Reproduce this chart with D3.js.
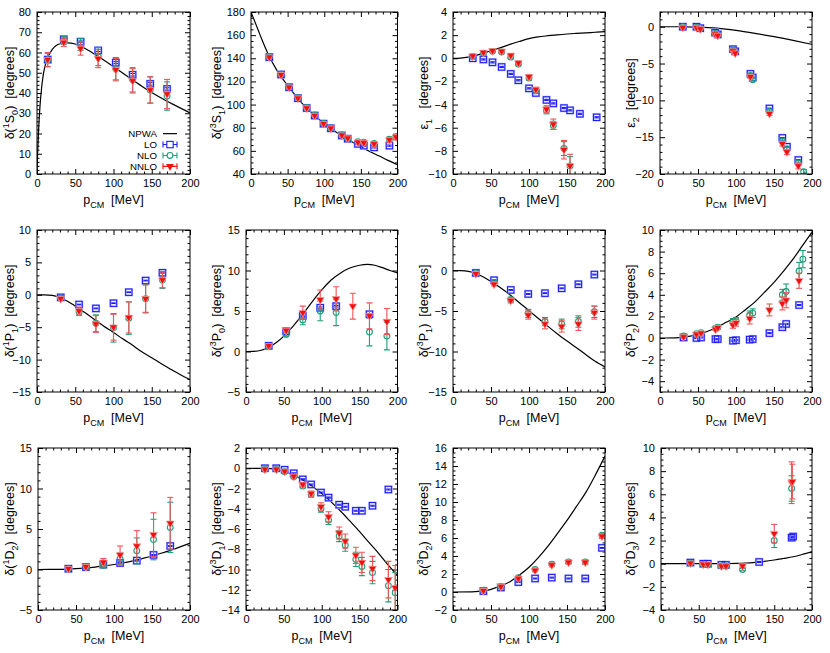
<!DOCTYPE html>
<html>
<head>
<meta charset="utf-8">
<script src="https://cdn.jsdelivr.net/npm/d3@7"></script>
<style>
  body { margin: 0; background: #fff; }
  svg { display: block; }
  text { font-family: "Liberation Sans", Arial, Helvetica, sans-serif; fill: #000; }
</style>
</head>
<body>
<div id="chart"></div>
<script>
// ---- data: [p_CM (MeV), phase (deg), error] ----
const s1s0Npwa = [[0,0],[0.5,7],[1,12],[2,21],[4,34],[6,42.5],[8,48.5],[10,52.5],[14,57.5],[20,61.5],[30,64.3],[40,64.8],[50,64.2],[60,62.6],[80,58],[100,53],[120,47.8],[140,42.6],[160,38],[180,34],[200,30.2]];
const s1s0Lo = [[14,56.5,0.4],[35,66.5,0.4],[57,65.3,0.4],[80,61,0.5],[103,55,0.5],[125,49,0.6],[148,44.5,0.6],[170,42,0.6]];
const s1s0Nlo = [[14,56.3,3.3],[35,66,2],[57,64,3],[80,58,4.5],[103,52,5.5],[125,46.5,6],[148,41.5,6.5],[170,38.5,7]];
const s1s0Nnlo = [[14,56.5,3.5],[35,65,2],[57,62,3.3],[80,57,4.5],[103,51.5,5.5],[125,46,6],[148,41.5,6.5],[170,39.5,7.2]];

const s3s1Npwa = [[0,180],[5,172],[10,164],[15,156],[20,148.5],[25,141.5],[35,130],[50,116.5],[63,106],[75,97.5],[87,90.5],[100,83.5],[112,78],[125,72.5],[137,68],[150,63.5],[162,59.5],[175,55.5],[187,51.8],[200,48]];
const s3s1Lo = [[25,141,0.5],[41,126,0.5],[52,115,0.5],[64,105.5,0.5],[76,97,0.5],[87,90.5,0.5],[99,83.5,0.5],[109,79.5,0.5],[124,73.3,0.5],[132,70.5,0.5],[146,66,0.5],[154,64.5,0.5],[168,63,0.5],[189,64.5,0.5]];
const s3s1Nlo = [[25,141.5,1],[41,126.3,1],[52,115.5,1],[64,106,1],[76,97.5,1],[87,91,1],[99,84,1],[109,79.8,1],[124,73.8,1],[132,71,1],[146,68,1.2],[154,67.5,1.3],[168,66.5,1.5],[189,70,1.8],[198,72,2]];
const s3s1Nnlo = [[25,141,1],[41,125.8,1],[52,115,1],[64,105.5,1],[76,97,1],[87,90.5,1],[99,83.5,1],[109,79.5,1],[124,73.5,1],[132,71,1.2],[146,67.5,1.5],[154,67,1.6],[168,66,1.8],[189,69.5,2.2],[198,72,2.5]];

const eps1Npwa = [[0,0],[10,0.02],[20,0.1],[30,0.25],[40,0.45],[50,0.65],[62,0.9],[75,1.2],[87,1.45],[100,1.7],[112,1.85],[125,1.95],[137,2.03],[150,2.1],[162,2.15],[175,2.2],[187,2.25],[200,2.3]];
const eps1Lo = [[26,0,0.05],[40,-0.1,0.05],[52,-0.35,0.05],[64,-0.75,0.05],[76,-1.35,0.05],[86,-1.9,0.05],[100,-2.6,0.05],[109,-3.0,0.05],[123,-3.6,0.05],[132,-3.9,0.05],[146,-4.3,0.05],[154,-4.5,0.05],[167,-4.8,0.05],[189,-5.1,0.05]];
const eps1Nlo = [[26,0.15,0.1],[40,0.45,0.1],[52,0.6,0.1],[64,0.55,0.1],[76,0.1,0.15],[86,-0.5,0.15],[100,-1.7,0.2],[109,-2.8,0.2],[123,-4.5,0.3],[132,-5.8,0.35],[146,-7.8,0.6],[154,-9.3,0.8]];
const eps1Nnlo = [[26,0.2,0.1],[40,0.5,0.1],[52,0.65,0.1],[64,0.6,0.1],[76,0.25,0.15],[86,-0.4,0.15],[100,-1.6,0.2],[109,-2.7,0.2],[123,-4.4,0.3],[132,-5.7,0.45],[146,-7.9,0.8],[154,-9.3,1]];

const eps2Npwa = [[0,0],[25,0],[50,-0.05],[75,-0.2],[100,-0.5],[125,-0.9],[150,-1.35],[175,-1.85],[200,-2.4]];
const eps2Lo = [[30,0,0.05],[48,0,0.05],[53,-0.2,0.05],[72.5,-0.8,0.05],[76,-1.05,0.05],[96,-3.05,0.05],[99,-3.35,0.05],[119,-6.4,0.05],[122,-6.9,0.05],[144,-11.1,0.05],[161,-15.1,0.05],[167,-16.3,0.05],[182,-18.1,0.05]];
const eps2Nlo = [[30,0,0.1],[48,-0.05,0.1],[53,-0.25,0.1],[72.5,-0.9,0.1],[76,-1.1,0.1],[96,-3.15,0.1],[99,-3.45,0.1],[119,-6.6,0.15],[122,-7.2,0.15],[144,-11.5,0.2],[161,-15.5,0.25],[167,-16.6,0.25],[182,-18.5,0.3],[189,-19.7,0.3]];
const eps2Nnlo = [[30,-0.1,0.1],[48,-0.1,0.1],[53,-0.3,0.1],[72.5,-1.0,0.1],[76,-1.2,0.1],[96,-3.3,0.1],[99,-3.6,0.15],[119,-6.8,0.2],[144,-11.8,0.25],[161,-15.9,0.3],[167,-17.0,0.35],[182,-18.9,0.4]];

const p1p1Npwa = [[0,0],[10,0],[20,-0.1],[30,-0.45],[40,-1.0],[50,-1.75],[62,-2.7],[75,-3.8],[87,-4.8],[100,-5.8],[112,-6.8],[125,-7.8],[137,-8.8],[150,-9.7],[162,-10.6],[175,-11.5],[187,-12.3],[200,-13.1]];
const p1p1Lo = [[31,-0.4,0.05],[55,-1.5,0.05],[77,-2.1,0.05],[100,-1.3,0.05],[120,0.4,0.05],[142,2.2,0.05],[164,3.4,0.05]];
const p1p1Nlo = [[31,-0.5,0.2],[55,-2.6,0.6],[77,-4.4,1.3],[100,-5.1,2.2],[120,-3.6,2.5],[142,-0.6,2.2],[164,2.3,1.3]];
const p1p1Nnlo = [[31,-0.6,0.2],[55,-2.5,0.6],[77,-4.5,1.3],[100,-5.0,2],[120,-3.5,2.4],[142,-0.6,2.1],[164,2.3,1.2]];

const p3p0Npwa = [[0,0],[10,0.02],[20,0.15],[30,0.5],[40,1.1],[50,1.9],[62,3.1],[75,4.6],[87,6.1],[100,7.6],[112,8.8],[125,9.7],[137,10.3],[150,10.65],[160,10.75],[170,10.65],[180,10.35],[190,10.0],[200,9.7]];
const p3p0Lo = [[30,0.7,0.1],[53,2.5,0.1],[75,4.4,0.1],[98,5.4,0.1],[119,5.6,0.1],[163,4.6,0.1]];
const p3p0Nlo = [[30,0.6,0.1],[53,2.1,0.2],[75,3.9,0.6],[98,5.0,1.2],[119,4.8,1.6],[163,2.4,1.7],[186,1.9,1.7]];
const p3p0Nnlo = [[30,0.7,0.1],[53,2.6,0.2],[75,4.8,0.8],[98,6.4,1.2],[119,6.5,1.5],[141,5.6,1.6],[163,4.4,1.6],[186,3.7,1.6]];

const p3p1Npwa = [[0,0],[10,-0.02],[20,-0.1],[30,-0.35],[40,-0.8],[50,-1.35],[62,-2.1],[75,-3.0],[87,-3.95],[100,-4.95],[112,-5.9],[125,-6.9],[137,-7.8],[150,-8.7],[162,-9.5],[175,-10.4],[187,-11.2],[200,-11.9]];
const p3p1Lo = [[30,-0.3,0.05],[54,-1.2,0.05],[76,-2.4,0.05],[99,-2.9,0.05],[121,-2.8,0.05],[143,-2.2,0.05],[165,-1.7,0.05],[186,-0.5,0.05]];
const p3p1Nlo = [[30,-0.3,0.1],[54,-1.5,0.2],[76,-3.6,0.3],[99,-5.3,0.5],[121,-6.3,0.5],[143,-6.6,0.6],[165,-6.3,0.7],[186,-5.1,0.7]];
const p3p1Nnlo = [[30,-0.4,0.1],[54,-1.7,0.2],[76,-3.7,0.3],[99,-5.5,0.5],[121,-6.6,0.6],[143,-6.9,0.7],[165,-6.6,0.8],[186,-5.2,0.8]];

const p3p2Npwa = [[0,0],[20,0.02],[30,0.08],[40,0.18],[50,0.35],[62,0.6],[75,1.0],[87,1.45],[100,1.95],[112,2.6],[125,3.35],[137,4.2],[150,5.15],[162,6.15],[175,7.3],[187,8.5],[200,9.8]];
const p3p2Lo = [[31,0.05,0.05],[48,0,0.05],[54,0.05,0.05],[73,-0.1,0.05],[76,-0.1,0.05],[96,-0.25,0.05],[100,-0.2,0.05],[118,-0.15,0.05],[122,-0.1,0.05],[144,0.45,0.05],[161,1.0,0.05],[166,1.3,0.05],[183,3.05,0.05]];
const p3p2Nlo = [[31,0.2,0.1],[48,0.4,0.1],[54,0.5,0.1],[73,0.9,0.1],[76,1.0,0.15],[96,1.5,0.3],[100,1.6,0.3],[118,2.1,0.4],[122,2.3,0.4],[161,4.0,0.5],[166,4.3,0.7],[183,6.2,0.8],[188,7.3,0.8]];
const p3p2Nnlo = [[31,0.1,0.1],[48,0.35,0.1],[54,0.45,0.1],[73,0.8,0.1],[76,0.95,0.15],[96,1.2,0.3],[100,1.4,0.3],[118,1.8,0.5],[144,2.6,0.55],[161,3.2,0.6],[166,3.5,0.7],[183,5.3,0.7]];

const d1d2Npwa = [[0,0],[25,0.01],[40,0.05],[50,0.1],[62,0.18],[75,0.3],[87,0.45],[100,0.62],[112,0.82],[125,1.07],[137,1.35],[150,1.67],[162,2.0],[175,2.4],[187,2.8],[200,3.25]];
const d1d2Lo = [[40,0.1,0.05],[63,0.3,0.05],[86,0.6,0.05],[108,0.8,0.05],[130,1.1,0.05],[152,1.8,0.05],[174,2.9,0.05]];
const d1d2Nlo = [[40,0.1,0.1],[63,0.3,0.1],[86,0.5,0.2],[108,1.3,0.75],[130,2.3,1.6],[152,3.7,2.5],[174,5.2,3.1]];
const d1d2Nnlo = [[40,0.1,0.1],[63,0.35,0.15],[86,0.9,0.45],[108,1.8,1.1],[130,2.9,1.9],[152,4.3,2.7],[174,5.7,3.2]];

const d3d1Npwa = [[0,0],[25,-0.02],[40,-0.12],[50,-0.3],[62,-0.65],[75,-1.15],[87,-1.75],[100,-2.5],[112,-3.3],[125,-4.25],[137,-5.2],[150,-6.25],[162,-7.3],[175,-8.4],[187,-9.5],[200,-10.6]];
const d3d1Lo = [[25,0,0.05],[40,0,0.05],[51,-0.15,0.05],[63,-0.5,0.05],[75,-1.1,0.05],[86,-1.6,0.05],[99,-2.4,0.05],[109,-2.9,0.05],[123,-3.6,0.05],[131,-3.8,0.05],[145,-4.2,0.05],[153,-4.2,0.05],[167,-3.7,0.05],[188,-2.1,0.05]];
const d3d1Nlo = [[25,-0.1,0.1],[40,-0.1,0.1],[51,-0.35,0.1],[63,-0.85,0.15],[75,-1.75,0.2],[86,-2.6,0.25],[99,-4.0,0.35],[109,-5.1,0.45],[123,-6.7,0.55],[131,-7.6,0.6],[145,-9.0,0.7],[153,-9.7,0.9],[167,-10.3,1.1],[188,-11.6,1.6],[197,-12.3,2]];
const d3d1Nnlo = [[25,-0.1,0.1],[40,-0.1,0.1],[51,-0.3,0.1],[63,-0.8,0.15],[75,-1.6,0.2],[86,-2.5,0.25],[99,-3.8,0.4],[109,-4.8,0.5],[123,-6.4,0.6],[131,-7.2,0.7],[145,-8.6,0.8],[153,-9.3,1.0],[167,-9.9,1.2],[188,-11.0,1.8],[197,-11.8,2.2]];

const d3d2Npwa = [[0,0],[25,0.02],[40,0.12],[50,0.3],[62,0.65],[75,1.15],[87,1.85],[100,2.75],[112,3.8],[125,5.1],[137,6.45],[150,7.95],[162,9.45],[175,11.1],[187,12.95],[200,15.1]];
const d3d2Lo = [[40,0.1,0.05],[63,0.5,0.05],[86,1.1,0.05],[108,1.5,0.05],[130,1.6,0.05],[152,1.5,0.05],[174,1.5,0.05],[196,4.9,0.05]];
const d3d2Nlo = [[40,0.2,0.1],[63,0.6,0.1],[86,1.6,0.1],[108,2.5,0.15],[130,3.1,0.2],[152,3.35,0.2],[174,3.35,0.2],[196,6.3,0.2]];
const d3d2Nnlo = [[40,0.15,0.1],[63,0.6,0.1],[86,1.5,0.15],[108,2.4,0.15],[130,3.0,0.2],[152,3.3,0.2],[174,3.3,0.25],[196,6.2,0.25]];

const d3d3Npwa = [[0,0],[50,0],[75,0.005],[100,0.03],[112,0.06],[125,0.12],[137,0.2],[150,0.32],[162,0.45],[175,0.6],[187,0.8],[200,1.05]];
const d3d3Lo = [[39,0.1,0.05],[56,0,0.05],[62,0,0.05],[80,-0.1,0.05],[86,-0.1,0.05],[130,0.15,0.05],[173,2.25,0.05],[175,2.35,0.05]];
const d3d3Nlo = [[39,0.05,0.1],[56,-0.05,0.1],[62,-0.1,0.1],[80,-0.2,0.1],[86,-0.2,0.1],[108,-0.5,0.1],[150,2.0,0.6],[173,6.5,1.1]];
const d3d3Nnlo = [[39,0.05,0.1],[56,-0.05,0.1],[62,-0.05,0.1],[80,-0.2,0.1],[86,-0.2,0.1],[108,-0.2,0.1],[150,2.6,0.8],[173,7.0,1.8],[174,7.1,1.5]];

const xTicks = [0, 50, 100, 150, 200];
const legendNames = ["NPWA", "LO", "NLO", "NNLO"];

// panel table: label, y domain, major step, minor subdivisions, series
const panels = [
  {label: "δ(^{1}S_{0})  [degrees]", y: [0, 80], step: 10, sub: 5, npwa: s1s0Npwa, lo: s1s0Lo, nlo: s1s0Nlo, nnlo: s1s0Nnlo, legend: true},
  {label: "δ(^{3}S_{1})  [degrees]", y: [40, 180], step: 20, sub: 4, npwa: s3s1Npwa, lo: s3s1Lo, nlo: s3s1Nlo, nnlo: s3s1Nnlo},
  {label: "ε_{1}   [degrees]", y: [-10, 4], step: 2, sub: 4, npwa: eps1Npwa, lo: eps1Lo, nlo: eps1Nlo, nnlo: eps1Nnlo},
  {label: "ε_{2}  [degrees]", y: [-20, 2], step: 5, sub: 5, npwa: eps2Npwa, lo: eps2Lo, nlo: eps2Nlo, nnlo: eps2Nnlo},
  {label: "δ(^{1}P_{1})  [degrees]", y: [-15, 10], step: 5, sub: 5, npwa: p1p1Npwa, lo: p1p1Lo, nlo: p1p1Nlo, nnlo: p1p1Nnlo},
  {label: "δ(^{3}P_{0})  [degrees]", y: [-5, 15], step: 5, sub: 5, npwa: p3p0Npwa, lo: p3p0Lo, nlo: p3p0Nlo, nnlo: p3p0Nnlo},
  {label: "δ(^{3}P_{1})  [degrees]", y: [-15, 5], step: 5, sub: 5, npwa: p3p1Npwa, lo: p3p1Lo, nlo: p3p1Nlo, nnlo: p3p1Nnlo},
  {label: "δ(^{3}P_{2})  [degrees]", y: [-5, 10], step: 2, sub: 4, npwa: p3p2Npwa, lo: p3p2Lo, nlo: p3p2Nlo, nnlo: p3p2Nnlo},
  {label: "δ(^{1}D_{2})  [degrees]", y: [-5, 15], step: 5, sub: 5, npwa: d1d2Npwa, lo: d1d2Lo, nlo: d1d2Nlo, nnlo: d1d2Nnlo},
  {label: "δ(^{3}D_{1})  [degrees]", y: [-14, 2], step: 2, sub: 4, npwa: d3d1Npwa, lo: d3d1Lo, nlo: d3d1Nlo, nnlo: d3d1Nnlo},
  {label: "δ(^{3}D_{2})  [degrees]", y: [-2, 16], step: 2, sub: 4, npwa: d3d2Npwa, lo: d3d2Lo, nlo: d3d2Nlo, nnlo: d3d2Nnlo},
  {label: "δ(^{3}D_{3})  [degrees]", y: [-4, 10], step: 2, sub: 4, npwa: d3d3Npwa, lo: d3d3Lo, nlo: d3d3Nlo, nnlo: d3d3Nnlo}
];

// ---- layout ----
const width = 830, height = 653;
const rows = [[12, 174], [230, 392], [448, 610]];
const colStart = [0, 207, 414, 621];
const colRight = [190, 397.5, 605, 812];
const plotLeft = [[37, 251, 453, 660], [37, 246, 453, 660], [38, 246, 453, 661]];

const colors = {lo: "#1a1aff", loHalo: "#b4b4ff", nlo: "#1f9f7a", nnlo: "#f01010", nnloBar: "#ee5555"};
const triangle = d3.symbol(d3.symbolTriangle, 26)();

const svg = d3.select("#chart").append("svg")
    .attr("width", width)
    .attr("height", height)
    .attr("viewBox", [0, 0, width, height]);

// text with ^{..} superscripts and _{..} subscripts
function richText(sel, str, size) {
    const parts = str.match(/\^\{[^}]*\}|_\{[^}]*\}|[^^_]+/g);
    let shift = 0;
    parts.forEach(s => {
        let target = 0, txt = s, fs = size;
        if (s[0] === "^") { target = -0.38 * size; txt = s.slice(2, -1); fs = size * 0.72; }
        else if (s[0] === "_") { target = 0.3 * size; txt = s.slice(2, -1); fs = size * 0.72; }
        sel.append("tspan").attr("dy", target - shift).attr("font-size", fs).text(txt);
        shift = target;
    });
}

function drawSeries(g, data, x, y, kind) {
    const cap = 3;
    const bars = g.append("g")
        .attr("stroke", kind === "nnlo" ? colors.nnloBar : colors[kind])
        .attr("stroke-width", 1.1)
        .attr("fill", "none");
    data.forEach(d => {
        const x0 = x(d[0]), yl = y(d[1] - d[2]), yh = y(d[1] + d[2]);
        bars.append("line").attr("x1", x0).attr("x2", x0).attr("y1", yl).attr("y2", yh);
        bars.append("line").attr("x1", x0 - cap).attr("x2", x0 + cap).attr("y1", yl).attr("y2", yl);
        bars.append("line").attr("x1", x0 - cap).attr("x2", x0 + cap).attr("y1", yh).attr("y2", yh);
    });
    const marks = g.append("g");
    if (kind === "lo") {
        marks.selectAll("rect.halo").data(data).join("rect")
            .attr("x", d => x(d[0]) - 3.2).attr("y", d => y(d[1]) - 3.2)
            .attr("width", 6.4).attr("height", 6.4)
            .attr("fill", "none").attr("stroke", colors.loHalo).attr("stroke-width", 2);
        marks.selectAll("rect.m").data(data).join("rect")
            .attr("x", d => x(d[0]) - 3.2).attr("y", d => y(d[1]) - 3.2)
            .attr("width", 6.4).attr("height", 6.4)
            .attr("fill", "none").attr("stroke", colors.lo).attr("stroke-width", 1);
    } else if (kind === "nlo") {
        marks.selectAll("circle").data(data).join("circle")
            .attr("cx", d => x(d[0])).attr("cy", d => y(d[1])).attr("r", 2.9)
            .attr("fill", "none").attr("stroke", colors.nlo).attr("stroke-width", 1.1);
    } else {
        marks.selectAll("path").data(data).join("path")
            .attr("d", triangle)
            .attr("transform", d => `translate(${x(d[0])},${y(d[1])}) rotate(180)`)
            .attr("fill", colors.nnlo).attr("stroke", "#f99").attr("stroke-width", 0.7);
    }
}

panels.forEach((p, i) => {
    const r = Math.floor(i / 4), c = i % 4;
    const [top, bottom] = rows[r];
    const left = plotLeft[r][c], right = colRight[c];

    const x = d3.scaleLinear().domain([0, 200]).range([left, right]);
    const y = d3.scaleLinear().domain(p.y).range([bottom, top]);

    const yMajor = d3.range(Math.ceil(p.y[0] / p.step) * p.step, p.y[1] + 1e-9, p.step);
    const minorStep = p.step / p.sub;
    const yMinor = d3.range(Math.ceil(p.y[0] / minorStep) * minorStep, p.y[1] + 1e-9, minorStep)
        .filter(v => Math.abs(v / p.step - Math.round(v / p.step)) > 1e-6);
    const xMinor = d3.range(0, 201, 10).filter(v => v % 50 !== 0);

    const g = svg.append("g");

    // axes, ticks inward and mirrored
    const addAxis = (axis, tx, ty, labels) => {
        const a = g.append("g").attr("transform", `translate(${tx},${ty})`).call(axis);
        a.select(".domain").remove();
        a.selectAll("line").attr("stroke", "#000").attr("stroke-width", 1);
        a.selectAll("text").attr("font-size", 11).attr("font-family", null).attr("fill", "#000");
        if (!labels) a.selectAll("text").remove();
    };
    addAxis(d3.axisBottom(x).tickValues(xTicks).tickSize(-5).tickPadding(5).tickFormat(d3.format("d")), 0, bottom, true);
    addAxis(d3.axisBottom(x).tickValues(xMinor).tickSize(-2.5), 0, bottom, false);
    addAxis(d3.axisTop(x).tickValues(xTicks).tickSize(-5), 0, top, false);
    addAxis(d3.axisTop(x).tickValues(xMinor).tickSize(-2.5), 0, top, false);
    addAxis(d3.axisLeft(y).tickValues(yMajor).tickSize(-5).tickPadding(6).tickFormat(d3.format("d")), left, 0, true);
    addAxis(d3.axisLeft(y).tickValues(yMinor).tickSize(-2.5), left, 0, false);
    addAxis(d3.axisRight(y).tickValues(yMajor).tickSize(-5), right, 0, false);
    addAxis(d3.axisRight(y).tickValues(yMinor).tickSize(-2.5), right, 0, false);

    const clipId = `clip${i}`;
    g.append("clipPath").attr("id", clipId).append("rect")
        .attr("x", left).attr("y", top).attr("width", right - left).attr("height", bottom - top);

    const body = g.append("g").attr("clip-path", `url(#${clipId})`);
    body.append("path")
        .datum(p.npwa)
        .attr("fill", "none")
        .attr("stroke", "#000")
        .attr("stroke-width", 1.2)
        .attr("d", d3.line().x(d => x(d[0])).y(d => y(d[1])).curve(d3.curveMonotoneX));

    drawSeries(body, p.lo, x, y, "lo");
    drawSeries(body, p.nlo, x, y, "nlo");
    drawSeries(body, p.nnlo, x, y, "nnlo");

    g.append("rect")
        .attr("x", left).attr("y", top)
        .attr("width", right - left).attr("height", bottom - top)
        .attr("fill", "none").attr("stroke", "#000").attr("stroke-width", 1);

    // axis titles
    const xt = g.append("text")
        .attr("x", (left + right) / 2).attr("y", bottom + 30)
        .attr("text-anchor", "middle").attr("font-size", 12)
        .style("white-space", "pre");
    richText(xt, "p_{CM}  [MeV]", 12.5);

    const yt = g.append("text")
        .attr("transform", `translate(${colStart[c] + 14},${(top + bottom) / 2}) rotate(-90)`)
        .attr("text-anchor", "middle").attr("font-size", 12)
        .style("white-space", "pre");
    richText(yt, p.label, 12.5);

    if (p.legend) {
        const lg = g.append("g");
        const gap = 10.9;
        const lx = right - 33, ly = bottom - 24 - 1.5 * gap;
        legendNames.forEach((name, k) => {
            const yy = ly + k * gap;
            lg.append("text").attr("x", lx).attr("y", yy).attr("dy", "0.35em")
                .attr("text-anchor", "end").attr("font-size", 9.7).text(name);
            const s0 = lx + 6, s1 = lx + 20, sm = (s0 + s1) / 2;
            if (k === 0) {
                lg.append("line").attr("x1", s0).attr("x2", s1).attr("y1", yy).attr("y2", yy)
                    .attr("stroke", "#000").attr("stroke-width", 1.2);
                return;
            }
            const kind = ["lo", "nlo", "nnlo"][k - 1];
            const col = colors[kind];
            lg.append("path")
                .attr("d", `M${s0},${yy - 3}V${yy + 3}M${s0},${yy}H${s1}M${s1},${yy - 3}V${yy + 3}`)
                .attr("stroke", col).attr("stroke-width", 1.1).attr("fill", "none");
            if (kind === "lo") {
                lg.append("rect").attr("x", sm - 3.2).attr("y", yy - 3.2).attr("width", 6.4).attr("height", 6.4)
                    .attr("fill", "#fff").attr("stroke", col).attr("stroke-width", 1.1);
            } else if (kind === "nlo") {
                lg.append("circle").attr("cx", sm).attr("cy", yy).attr("r", 2.9)
                    .attr("fill", "#fff").attr("stroke", col).attr("stroke-width", 1.1);
            } else {
                lg.append("path").attr("d", triangle)
                    .attr("transform", `translate(${sm},${yy}) rotate(180)`).attr("fill", col);
            }
        });
    }
});
</script>
</body>
</html>
